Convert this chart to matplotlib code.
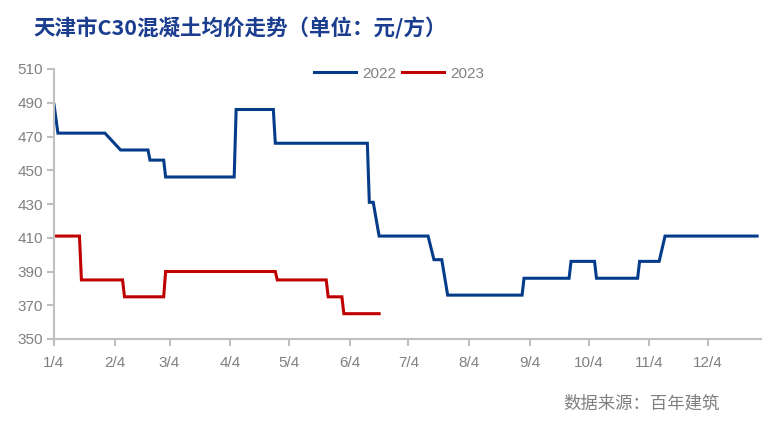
import matplotlib
matplotlib.use("Agg")
import matplotlib.pyplot as plt
import pandas as pd

plt.rcParams['font.family'] = ['Liberation Sans', 'Noto Sans CJK SC', 'DejaVu Sans']

title = "天津市C30混凝土均价走势（单位：元/方）"
source = "数据来源：百年建筑"

dates_2022 = ["2022-01-04", "2022-01-06", "2022-01-30", "2022-02-07", "2022-02-21",
              "2022-02-22", "2022-03-01", "2022-03-02", "2022-04-06", "2022-04-07",
              "2022-04-26", "2022-04-27", "2022-06-13", "2022-06-14", "2022-06-16",
              "2022-06-19", "2022-07-14", "2022-07-17", "2022-07-21", "2022-07-24",
              "2022-08-31", "2022-09-01", "2022-09-24", "2022-09-25", "2022-10-07",
              "2022-10-08", "2022-10-29", "2022-10-30", "2022-11-09", "2022-11-12",
              "2022-12-29"]
values_2022 = [489, 472, 472, 462, 462,
               456, 456, 446, 446, 486,
               486, 466, 466, 431, 431,
               411, 411, 397, 397, 376,
               376, 386, 386, 396, 396,
               386, 386, 396, 396, 411,
               411]

# 2023 plotted on the same month/day axis
dates_2023 = ["2022-01-04", "2022-01-17", "2022-01-18", "2022-02-08", "2022-02-09",
              "2022-03-01", "2022-03-02", "2022-04-27", "2022-04-28", "2022-05-23",
              "2022-05-24", "2022-05-31", "2022-06-01", "2022-06-19"]
values_2023 = [411, 411, 385, 385, 375,
               375, 390, 390, 385, 385,
               375, 375, 365, 365]

tick_dates = ["2022-01-04", "2022-02-04", "2022-03-04", "2022-04-04", "2022-05-04",
              "2022-06-04", "2022-07-04", "2022-08-04", "2022-09-04", "2022-10-04",
              "2022-11-04", "2022-12-04"]
tick_labels = ["1/4", "2/4", "3/4", "4/4", "5/4", "6/4", "7/4", "8/4", "9/4",
               "10/4", "11/4", "12/4"]
y_ticks = [350, 370, 390, 410, 430, 450, 470, 490, 510]

fig = plt.figure(figsize=(7.79, 4.33), dpi=100)
ax = fig.add_axes([54/779, 1-339/433, (761-54)/779, (339-69)/433])

c22 = "#043C8A"
c23 = "#C00000"
ax.plot(pd.to_datetime(dates_2022), values_2022, color=c22, lw=2.2, label="2022",
        solid_joinstyle='miter')
ax.plot(pd.to_datetime(dates_2023), values_2023, color=c23, lw=2.2, label="2023",
        solid_joinstyle='miter')

ax.set_ylim(350, 510)
ax.set_yticks(y_ticks)
ax.set_xlim(pd.Timestamp("2022-01-04"), pd.Timestamp("2022-12-31"))
ax.set_xticks(pd.to_datetime(tick_dates))
ax.set_xticklabels(tick_labels)

gray = "#BFBFBF"
for s in ["top", "right"]:
    ax.spines[s].set_visible(False)
for s in ["left", "bottom"]:
    ax.spines[s].set_color(gray)
    ax.spines[s].set_linewidth(1.5)
ax.tick_params(axis='both', colors=gray, width=1.5, length=5, labelcolor="#808080",
               labelsize=11)
ax.tick_params(axis='x', pad=7)
ax.tick_params(axis='y', pad=3)

leg = ax.legend(loc="upper center", bbox_to_anchor=(0.488, 1.06), ncol=2, frameon=False,
                fontsize=11, handlelength=2.75, handletextpad=0.4, columnspacing=0.35,
                labelcolor="#808080")

fig.text(33/779, 1-28/433, title, fontsize=15.5, fontweight='bold', color="#1A3D8F",
         family=['Noto Sans CJK SC'], va='center', ha='left')
fig.text(720/779, 1-404/433, source, fontsize=12.5, color="#808080",
         family=['Noto Sans CJK SC'], va='center', ha='right')

fig.savefig("out.png", dpi=100)
